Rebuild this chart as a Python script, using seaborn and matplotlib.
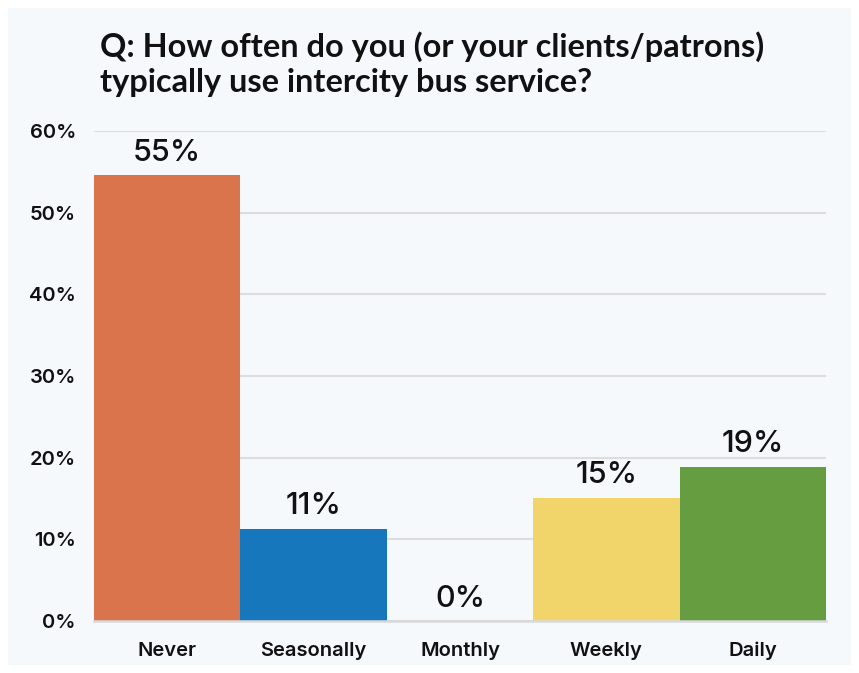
import matplotlib
matplotlib.use("Agg")
import matplotlib.pyplot as plt
import seaborn as sns
import pandas as pd
from matplotlib.patches import Rectangle

categories = ["Never", "Seasonally", "Monthly", "Weekly", "Daily"]
shares = [54.6, 11.3, 0.0, 15.1, 18.9]
colors = ["#D9744D", "#1677BD", "#9E9E9E", "#F2D56A", "#669D41"]
yticks = [0, 10, 20, 30, 40, 50, 60]
title = "Q: How often do you (or your clients/patrons)\ntypically use intercity bus service?"

sns.set_theme(style="white")
plt.rcParams["font.family"] = ["Inter", "DejaVu Sans"]

W, H = 859, 673
fig = plt.figure(figsize=(W / 100, H / 100), dpi=100, facecolor="white")
bg = "#F5F9FC"
fig.patches.append(Rectangle((8 / W, 8 / H), (851 - 8) / W, (665 - 8) / H,
                             transform=fig.transFigure, facecolor=bg,
                             edgecolor="none", zorder=-10))

ax = fig.add_axes([94 / W, (H - 621) / H, (826 - 94) / W, (621 - 131) / H])
ax.set_facecolor("none")

df = pd.DataFrame({"category": categories, "share": shares})
sns.barplot(data=df, x="category", y="share", hue="category",
            palette=dict(zip(categories, colors)), width=1.0,
            legend=False, ax=ax, zorder=3, saturation=1, linewidth=0)

ax.set_ylim(0, 60)
ax.set_xlim(-0.5, len(categories) - 0.5)
ax.set_yticks(yticks)
ax.set_yticklabels([f"{v}%" for v in yticks], fontsize=14.5, fontweight="semibold",
                   color="#111111")
ax.tick_params(axis="y", length=0, pad=13)
ax.set_xticks(range(len(categories)))
ax.set_xticklabels(categories, fontsize=14.5, fontweight="semibold", color="#111111")
ax.tick_params(axis="x", which="major", length=0, pad=15)
ax.set_xticks([i - 0.5 for i in range(len(categories) + 1)], minor=True)
ax.tick_params(axis="x", which="minor", length=6, width=1.5, color="#D9D9D9",
               direction="out")
ax.set_xlabel("")
ax.set_ylabel("")

ax.grid(axis="y", color="#DDDDDD", linewidth=1.5, zorder=0)
ax.set_axisbelow(True)
for s in ["top", "right", "left"]:
    ax.spines[s].set_visible(False)
ax.spines["bottom"].set_color("#D9D9D9")
ax.spines["bottom"].set_linewidth(1.8)
ax.spines["bottom"].set_zorder(4)

for i, v in enumerate(shares):
    ax.annotate(f"{round(v)}%", (i, v), xytext=(0, 6), textcoords="offset points",
                ha="center", va="bottom", fontsize=22, fontweight="medium",
                color="#111111")

fig.text(100 / W, 1 - 31 / H, title, ha="left", va="top", fontsize=23.4,
         fontweight="bold", color="#111111", linespacing=1.26,
         family=["Lato", "DejaVu Sans"])

fig.savefig("out.png", dpi=100, facecolor="white")
